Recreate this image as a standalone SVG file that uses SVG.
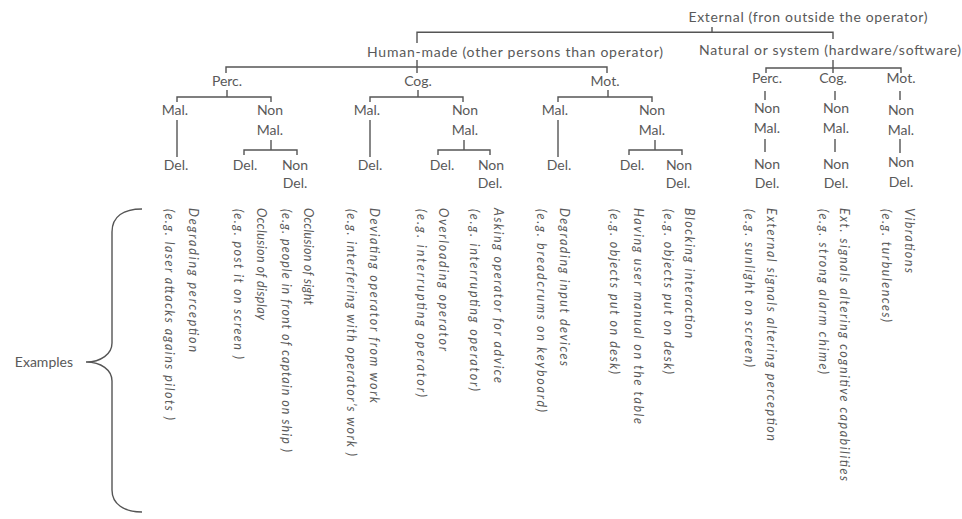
<svg xmlns="http://www.w3.org/2000/svg" width="962" height="519" viewBox="0 0 962 519">
<style>
.t{font-family:"Lato","Liberation Sans",sans-serif;font-size:14px;fill:#595959;text-anchor:middle}
.ex{font-family:"Lato","Liberation Sans",sans-serif;font-size:12.5px;font-style:italic;fill:#595959}
.exl{font-family:"Lato","Liberation Sans",sans-serif;font-size:14px;fill:#595959;text-anchor:end}
.ln{stroke:#555555;stroke-width:1.4;fill:none}
</style>
<rect width="962" height="519" fill="#ffffff"/>
<g id="connectors" class="ln">
<path d="M712,27V32.3M417,43V32.3H833V39"/>
<path d="M417,60V67M226,73V67H607V73M417,67V73"/>
<path d="M833,60V68M766,73V68H901V73M833,68V73"/>
<path d="M227,90V97M177,102V97H271V102M177,120V157M271,140V150M244,155V150H297V155"/>
<path d="M418,90V97M370,102V97H463V102M370,120V157M464,140V150M438,155V150H490V155"/>
<path d="M608,90V97M558,102V97H652V102M558,120V157M655,140V150M629,155V150H682V155"/>
<path d="M765,91V100M765,139V152M835,91V100M835,139V152M900,91V100M900,139V153"/>
<path d="M142,209C124,209 112,216 112,232V343C112,354 101,362 86,362C101,362 112,370 112,381V490C112,504 124,512 142,512"/>
</g>
<g id="n-external"><text class="t" x="808" y="22" textLength="239">External (fron outside the operator)</text></g>
<g id="n-human"><text class="t" x="515" y="57" textLength="296">Human-made (other persons than operator)</text></g>
<g id="n-natural"><text class="t" x="830" y="55" textLength="262">Natural or system (hardware/software)</text></g>
<g id="n-h-perc"><text class="t" x="227" y="86">Perc.</text></g>
<g id="n-h-cog"><text class="t" x="418" y="86">Cog.</text></g>
<g id="n-h-mot"><text class="t" x="605" y="86">Mot.</text></g>
<g id="n-n-perc"><text class="t" x="767" y="83">Perc.</text></g>
<g id="n-n-cog"><text class="t" x="833" y="83">Cog.</text></g>
<g id="n-n-mot"><text class="t" x="901" y="83">Mot.</text></g>
<g id="n-hp-mal"><text class="t" x="175" y="115">Mal.</text></g>
<g id="n-hp-mal-del"><text class="t" x="176" y="170">Del.</text></g>
<g id="n-hp-nonmal"><text class="t" x="270" y="115">Non</text><text class="t" x="270" y="135">Mal.</text></g>
<g id="n-hp-nm-del"><text class="t" x="245" y="170">Del.</text></g>
<g id="n-hp-nm-nondel"><text class="t" x="295" y="170">Non</text><text class="t" x="295" y="188">Del.</text></g>
<g id="n-hc-mal"><text class="t" x="367" y="115">Mal.</text></g>
<g id="n-hc-mal-del"><text class="t" x="370" y="170">Del.</text></g>
<g id="n-hc-nonmal"><text class="t" x="465" y="115">Non</text><text class="t" x="465" y="135">Mal.</text></g>
<g id="n-hc-nm-del"><text class="t" x="442" y="170">Del.</text></g>
<g id="n-hc-nm-nondel"><text class="t" x="491" y="170">Non</text><text class="t" x="490" y="188">Del.</text></g>
<g id="n-hm-mal"><text class="t" x="555" y="115">Mal.</text></g>
<g id="n-hm-mal-del"><text class="t" x="559" y="170">Del.</text></g>
<g id="n-hm-nonmal"><text class="t" x="652" y="115">Non</text><text class="t" x="652" y="135">Mal.</text></g>
<g id="n-hm-nm-del"><text class="t" x="632" y="170">Del.</text></g>
<g id="n-hm-nm-nondel"><text class="t" x="679" y="170">Non</text><text class="t" x="678" y="188">Del.</text></g>
<g id="n-np-nonmal"><text class="t" x="767" y="113">Non</text><text class="t" x="767" y="133">Mal.</text></g>
<g id="n-np-nondel"><text class="t" x="767" y="169">Non</text><text class="t" x="767" y="188">Del.</text></g>
<g id="n-nc-nonmal"><text class="t" x="836" y="113">Non</text><text class="t" x="836" y="133">Mal.</text></g>
<g id="n-nc-nondel"><text class="t" x="836" y="169">Non</text><text class="t" x="836" y="188">Del.</text></g>
<g id="n-nm-nonmal"><text class="t" x="901" y="115">Non</text><text class="t" x="901" y="135">Mal.</text></g>
<g id="n-nm-nondel"><text class="t" x="901" y="167">Non</text><text class="t" x="901" y="187">Del.</text></g>
<g id="n-examples"><text class="exl" x="73" y="367">Examples</text></g>
<g id="ex-1"><text class="ex" transform="translate(189,208) rotate(90)" textLength="144">Degrading perception</text><text class="ex" transform="translate(165,209) rotate(90)" textLength="211">(e.g. laser attacks agains pilots )</text></g>
<g id="ex-2"><text class="ex" transform="translate(257,208) rotate(90)" textLength="112">Occlusion of display</text><text class="ex" transform="translate(234,209) rotate(90)" textLength="150">(e.g. post it on screen )</text></g>
<g id="ex-3"><text class="ex" transform="translate(304,208) rotate(90)" textLength="97">Occlusion of sight</text><text class="ex" transform="translate(282,209) rotate(90)" textLength="243">(e.g. people in front of captain on ship )</text></g>
<g id="ex-4"><text class="ex" transform="translate(370,208) rotate(90)" textLength="195">Deviating operator from work</text><text class="ex" transform="translate(347,209) rotate(90)" textLength="247">(e.g. interfering with operator’s work )</text></g>
<g id="ex-5"><text class="ex" transform="translate(439,208) rotate(90)" textLength="143">Overloading operator</text><text class="ex" transform="translate(417,209) rotate(90)" textLength="188">(e.g. interrupting operator)</text></g>
<g id="ex-6"><text class="ex" transform="translate(494,208) rotate(90)" textLength="175">Asking operator for advice</text><text class="ex" transform="translate(470,209) rotate(90)" textLength="182">(e.g. interrupting operator)</text></g>
<g id="ex-7"><text class="ex" transform="translate(560,208) rotate(90)" textLength="158">Degrading input devices</text><text class="ex" transform="translate(537,209) rotate(90)" textLength="203">(e.g. breadcrums on keyboard)</text></g>
<g id="ex-8"><text class="ex" transform="translate(634,208) rotate(90)" textLength="216">Having user manual on the table</text><text class="ex" transform="translate(610,209) rotate(90)" textLength="165">(e.g. objects put on desk)</text></g>
<g id="ex-9"><text class="ex" transform="translate(685,208) rotate(90)" textLength="130">Blocking interaction</text><text class="ex" transform="translate(664,209) rotate(90)" textLength="165">(e.g. objects put on desk)</text></g>
<g id="ex-10"><text class="ex" transform="translate(767,208) rotate(90)" textLength="233">External signals altering perception</text><text class="ex" transform="translate(745,209) rotate(90)" textLength="158">(e.g. sunlight on screen)</text></g>
<g id="ex-11"><text class="ex" transform="translate(840,208) rotate(90)" textLength="273">Ext. signals altering cognitive capabilities</text><text class="ex" transform="translate(819,209) rotate(90)" textLength="165">(e.g. strong alarm chime)</text></g>
<g id="ex-12"><text class="ex" transform="translate(905,208) rotate(90)" textLength="65">Vibrations</text><text class="ex" transform="translate(882,209) rotate(90)" textLength="113">(e.g. turbulences)</text></g>
</svg>
